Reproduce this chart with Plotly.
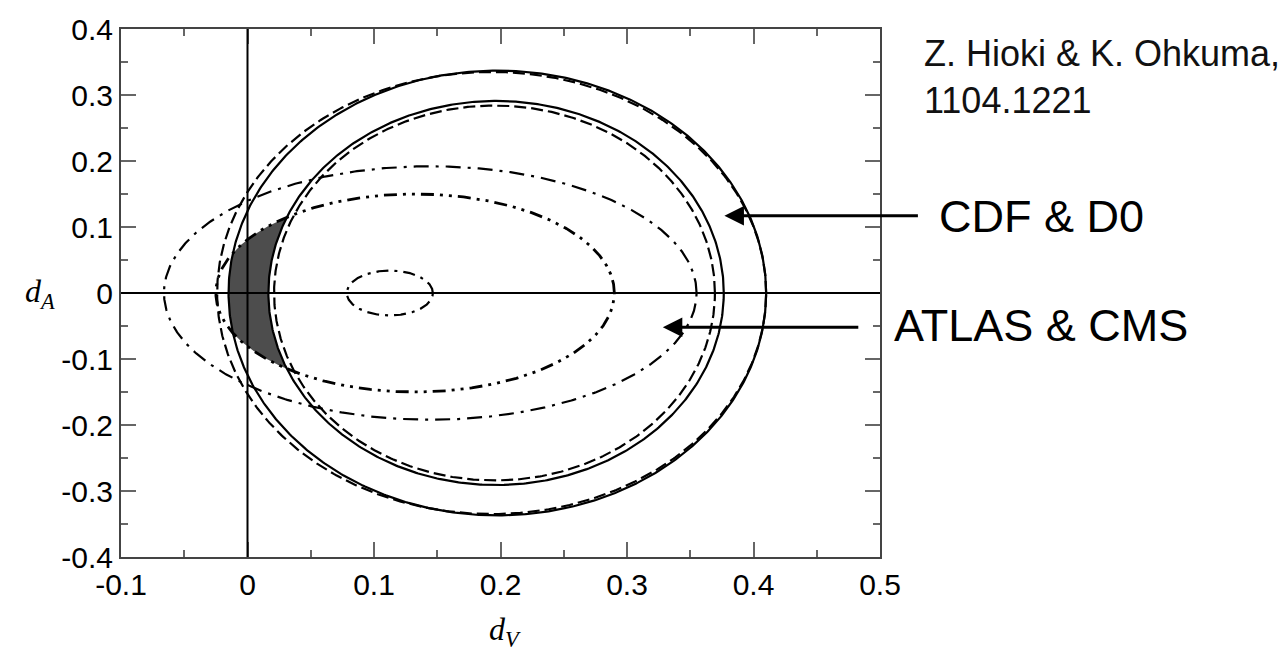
import numpy as np
import plotly.graph_objects as go

# ---- data ----
# contour ellipses: centre dV, semi-axis along dV, semi-axis along dA
outer_solid = dict(cx=0.1975, a=0.2125, b=0.337)
outer_dashed = dict(cx=0.193, a=0.217, b=0.335)
inner_solid = dict(cx=0.1965, a=0.180, b=0.291)
inner_dashed = dict(cx=0.19525, a=0.17425, b=0.284)
dashdot_big = dict(cx=0.1445, a=0.2105, b=0.192)
dashdotdot = dict(cx=0.1325, a=0.1575, b=0.150)
dashdot_small = dict(cx=0.1125, a=0.034, b=0.034)

x_tickvals = [-0.1, 0.0, 0.1, 0.2, 0.3, 0.4, 0.5]
x_ticktext = ["-0.1", "0", "0.1", "0.2", "0.3", "0.4", "0.5"]
y_tickvals = [-0.4, -0.3, -0.2, -0.1, 0.0, 0.1, 0.2, 0.3, 0.4]
y_ticktext = ["-0.4", "-0.3", "-0.2", "-0.1", "0", "0.1", "0.2", "0.3", "0.4"]

# arrow tips (data coords)
cdf_tip = (0.377, 0.117)
atlas_tip = (0.3283, -0.052)

t = np.linspace(0, 2 * np.pi, 721)


def ell(p):
    return p["cx"] + p["a"] * np.cos(t), p["b"] * np.sin(t)


def left_x(p, y):
    r = 1 - (y / p["b"]) ** 2
    out = np.full_like(y, np.nan)
    ok = r >= 0
    out[ok] = p["cx"] - p["a"] * np.sqrt(r[ok])
    return out


fig = go.Figure()

# shaded allowed region: inside outer solid & dash-dot-dot, outside inner solid
ys = np.linspace(-0.15, 0.15, 2001)
xl = np.maximum(left_x(outer_solid, ys), left_x(dashdotdot, ys))
xr = left_x(inner_solid, ys)
m = np.isfinite(xl) & np.isfinite(xr) & (xl <= xr)
ysel = ys[m]
poly_x = np.concatenate([xr[m], xl[m][::-1]])
poly_y = np.concatenate([ysel, ysel[::-1]])
fig.add_trace(go.Scatter(x=poly_x, y=poly_y, mode="lines", fill="toself",
                         fillcolor="#4d4d4d", line=dict(width=0),
                         hoverinfo="skip", showlegend=False))

curves = [
    (outer_solid, "solid", 2.2),
    (outer_dashed, "12px,5px", 2.2),
    (inner_solid, "solid", 2.2),
    (inner_dashed, "12px,5px", 2.2),
    (dashdot_big, "15px,7px,3px,7px", 2.2),
    (dashdotdot, "13px,6px,3px,6px,3px,6px", 2.8),
    (dashdot_small, "12px,6px,3px,6px", 2.2),
]
for p, dash, w in curves:
    x, y = ell(p)
    fig.add_trace(go.Scatter(x=x, y=y, mode="lines",
                             line=dict(color="black", width=w, dash=dash),
                             showlegend=False, hoverinfo="skip"))

tick_font = dict(family="Liberation Sans, Arial, sans-serif", size=30, color="black")
label_font = dict(family="Liberation Sans, Arial, sans-serif", size=45, color="black")
cite_font = dict(family="Liberation Sans, Arial, sans-serif", size=36, color="#111")

axis_common = dict(
    showgrid=False, zeroline=False, showline=True, linecolor="#444", linewidth=2,
    mirror="ticks", ticks="inside", ticklen=15, tickwidth=1.5, tickcolor="#666",
    tickfont=tick_font,
    minor=dict(ticks="inside", ticklen=7, tickwidth=1.5, tickcolor="#666",
               tick0=0, dtick=0.05, showgrid=False),
)

fig.update_layout(
    width=1286, height=651,
    margin=dict(l=121, r=406, t=25, b=94),
    paper_bgcolor="white", plot_bgcolor="white",
    xaxis=dict(range=[-0.1, 0.5], tickmode="array", tickvals=x_tickvals,
               ticktext=x_ticktext, **axis_common),
    yaxis=dict(range=[-0.4, 0.4], tickmode="array", tickvals=y_tickvals,
               ticktext=y_ticktext, **axis_common),
    shapes=[
        dict(type="line", xref="x", yref="paper", x0=0, x1=0, y0=0, y1=1,
             line=dict(color="black", width=2), layer="above"),
        dict(type="line", xref="paper", yref="y", x0=0, x1=1, y0=0, y1=0,
             line=dict(color="black", width=2), layer="above"),
    ],
)

annotations = [
    # arrows
    dict(x=cdf_tip[0], y=cdf_tip[1], xref="x", yref="y", ax=195, ay=0,
         showarrow=True, arrowhead=2, arrowsize=1.3, arrowwidth=3,
         arrowcolor="black", text=""),
    dict(x=atlas_tip[0], y=atlas_tip[1], xref="x", yref="y", ax=197, ay=0,
         showarrow=True, arrowhead=2, arrowsize=1.3, arrowwidth=3,
         arrowcolor="black", text=""),
    # labels
    dict(x=(937 - 121) / 759, y=(557 - 214) / 532, xref="paper", yref="paper",
         text="CDF &amp; D0", showarrow=False, xanchor="left", yanchor="middle",
         font=label_font),
    dict(x=(892 - 121) / 759, y=(557 - 324) / 532, xref="paper", yref="paper",
         text="ATLAS &amp; CMS", showarrow=False, xanchor="left", yanchor="middle",
         font=label_font),
    dict(x=(922 - 121) / 759, y=(557 - 50) / 532, xref="paper", yref="paper",
         text="Z. Hioki &amp; K. Ohkuma,", showarrow=False, xanchor="left",
         yanchor="middle", font=cite_font),
    dict(x=(922 - 121) / 759, y=(557 - 97) / 532, xref="paper", yref="paper",
         text="1104.1221", showarrow=False, xanchor="left", yanchor="middle",
         font=cite_font),
    # axis titles
    dict(x=(40 - 121) / 759, y=0.5, xref="paper", yref="paper",
         text="<i>d</i><sub><i>A</i></sub>", showarrow=False, xanchor="center",
         yanchor="middle", font=dict(family="Liberation Serif, serif", size=32, color="black")),
    dict(x=(505 - 121) / 759, y=(557 - 632) / 532, xref="paper", yref="paper",
         text="<i>d</i><sub><i>V</i></sub>", showarrow=False, xanchor="center",
         yanchor="middle", font=dict(family="Liberation Serif, serif", size=32, color="black")),
]
fig.update_layout(annotations=annotations)

fig.write_html("out.html")
